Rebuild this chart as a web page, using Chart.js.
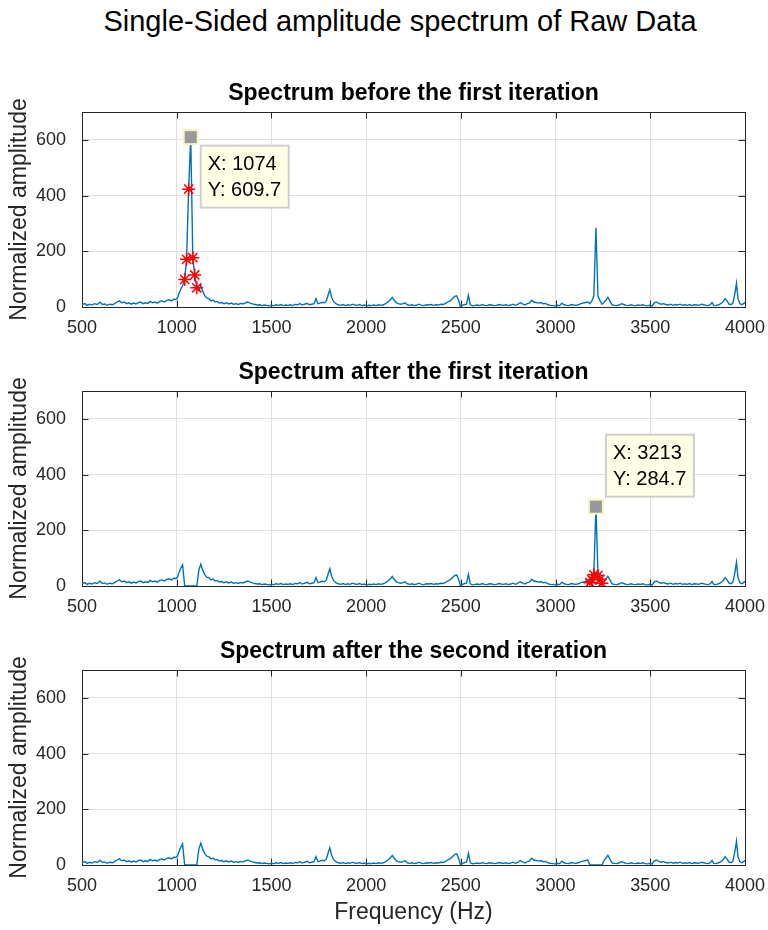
<!DOCTYPE html>
<html>
<head>
<meta charset="utf-8">
<script src="https://cdn.jsdelivr.net/npm/chart.js@4.4.1/dist/chart.umd.min.js"></script>
<style>
body { margin: 0; background: #fff; }
#page { position: relative; width: 768px; height: 930px; background: #fff; overflow: hidden;
        font-family: "Liberation Sans", Arial, Helvetica, sans-serif; }
#mainTitle { position: absolute; left: 16px; top: 5px; width: 768px; text-align: center;
             font-size: 29px; color: #000; }
canvas { position: absolute; left: 0; }
</style>
</head>
<body>
<div id="page">
  <div id="mainTitle">Single-Sided amplitude spectrum of Raw Data</div>
  <canvas id="c1"></canvas>
  <canvas id="c2"></canvas>
  <canvas id="c3"></canvas>
</div>
<script>
"use strict";

// spectrum (Hz, normalized amplitude)
var freqHz = [
  500, 515, 528, 540, 553, 566, 580, 595, 608, 620, 633, 646, 660, 672, 685, 697, 710, 722, 735, 748,
  760, 772, 785, 797, 810, 822, 835, 848, 860, 872, 885, 897, 910, 922, 935, 947, 960, 972, 985, 995,
  1003, 1010, 1020, 1031, 1042, 1052, 1063, 1074, 1085, 1095, 1106, 1117, 1127, 1138, 1149, 1159, 1170, 1181, 1192, 1202,
  1213, 1224, 1235, 1250, 1262, 1275, 1288, 1300, 1313, 1325, 1338, 1350, 1363, 1375, 1388, 1400, 1413, 1425, 1438, 1450,
  1463, 1475, 1488, 1500, 1513, 1525, 1538, 1550, 1563, 1575, 1588, 1600, 1613, 1625, 1638, 1650, 1663, 1675, 1688, 1700,
  1713, 1725, 1735, 1746, 1757, 1768, 1780, 1790, 1800, 1808, 1818, 1828, 1840, 1853, 1865, 1878, 1890, 1903, 1915, 1928,
  1940, 1953, 1965, 1978, 1990, 2003, 2015, 2028, 2040, 2053, 2065, 2078, 2090, 2103, 2115, 2128, 2138, 2148, 2160, 2170,
  2182, 2195, 2205, 2218, 2230, 2243, 2255, 2268, 2280, 2293, 2305, 2318, 2330, 2343, 2355, 2368, 2380, 2393, 2405, 2418,
  2430, 2443, 2455, 2468, 2478, 2488, 2497, 2508, 2520, 2530, 2540, 2550, 2562, 2575, 2588, 2600, 2613, 2625, 2638, 2650,
  2663, 2675, 2688, 2700, 2713, 2725, 2738, 2750, 2763, 2775, 2788, 2800, 2813, 2825, 2838, 2850, 2862, 2874, 2885, 2897,
  2910, 2922, 2935, 2947, 2960, 2972, 2985, 2997, 3010, 3022, 3033, 3045, 3058, 3070, 3083, 3095, 3108, 3120, 3133, 3145,
  3158, 3170, 3181, 3192, 3202, 3213, 3224, 3234, 3245, 3256, 3266, 3276, 3288, 3298, 3310, 3323, 3335, 3348, 3360, 3373,
  3385, 3398, 3410, 3423, 3435, 3448, 3460, 3473, 3485, 3498, 3510, 3520, 3532, 3545, 3557, 3570, 3582, 3595, 3607, 3620,
  3632, 3645, 3657, 3670, 3682, 3695, 3707, 3720, 3732, 3745, 3757, 3770, 3782, 3795, 3807, 3818, 3826, 3835, 3847, 3860,
  3872, 3885, 3895, 3905, 3916, 3926, 3936, 3947, 3955, 3963, 3973, 3984, 3995, 4000
];
var ampRaw = [
  8, 12, 6, 10, 7, 12, 9, 17, 9, 11, 6, 10, 8, 12, 18, 22, 15, 18, 12, 15,
  10, 14, 11, 16, 18, 12, 15, 13, 20, 15, 18, 14, 20, 22, 18, 24, 26, 22, 28, 27,
  30, 45, 62, 76, 99, 171, 423, 609.7, 177, 115, 69, 58, 78, 55, 40, 32, 30, 22, 25, 18,
  20, 14, 16, 12, 15, 11, 14, 10, 12, 9, 13, 11, 15, 18, 14, 11, 9, 7, 8, 5,
  7, 6, 4, 6, 5, 8, 6, 9, 5, 7, 6, 8, 5, 9, 8, 12, 7, 10, 13, 8,
  10, 12, 30, 12, 14, 17, 15, 22, 45, 62, 35, 20, 12, 8, 6, 9, 5, 8, 6, 10,
  7, 6, 9, 5, 7, 4, 6, 5, 7, 5, 8, 6, 8, 12, 18, 26, 34, 24, 15, 12,
  10, 12, 15, 8, 6, 8, 5, 7, 10, 6, 5, 8, 7, 9, 6, 8, 7, 10, 9, 12,
  18, 22, 30, 38, 40, 24, 3, 6, 9, 10, 42, 8, 4, 6, 7, 5, 9, 6, 5, 8,
  7, 5, 6, 9, 7, 6, 8, 5, 7, 10, 6, 9, 16, 11, 7, 12, 14, 24, 18, 16,
  14, 16, 12, 13, 8, 6, 5, 4, 6, 5, 14, 8, 6, 5, 9, 7, 6, 8, 12, 14,
  16, 18, 12, 22, 40, 284.7, 38, 24, 10, 17, 25, 35, 20, 8, 6, 5, 7, 12, 9, 6,
  5, 8, 6, 5, 7, 6, 8, 5, 4, 6, 4, 14, 18, 13, 10, 12, 9, 7, 10, 6,
  9, 7, 10, 6, 8, 6, 9, 5, 8, 7, 6, 10, 8, 6, 5, 9, 16, 6, 5, 8,
  12, 20, 30, 22, 10, 8, 14, 50, 85, 30, 12, 8, 14, 17
];

// bins taken out by each iteration
var removedIter1 = [1042, 1052, 1063, 1074, 1085, 1095, 1106];
var removedIter2 = [3181, 3192, 3202, 3213, 3224, 3234, 3245];
// red star markers (neighbours of the picked peak)
var starsIter1 = [1042, 1052, 1063, 1085, 1095, 1106];
var starsIter2 = [3181, 3192, 3202, 3224, 3234, 3245];
// data cursors
var tipIter1 = { x: 1074, y: 609.7, below: true };
var tipIter2 = { x: 3213, y: 284.7, below: false };

var xTickValues = [500, 1000, 1500, 2000, 2500, 3000, 3500, 4000];
var yTickValues = [0, 200, 400, 600];

var FONT = '"Liberation Sans", Arial, Helvetica, sans-serif';
var AXIS_COLOR = '#262626';
var LINE_COLOR = '#0072BD';
var PLOT_LEFT = 82, PLOT_RIGHT = 745, PLOT_H = 195;

Chart.defaults.font.family = FONT;
Chart.defaults.color = AXIS_COLOR;

function zeroed(removed) {
    return ampRaw.map(function (v, i) {
        return removed.indexOf(freqHz[i]) >= 0 ? 0 : v;
    });
}

function points(values) {
    return freqHz.map(function (f, i) { return { x: f, y: values[i] }; });
}

function starPoints(list) {
    return list.map(function (f) { return { x: f, y: ampRaw[freqHz.indexOf(f)] }; });
}

// MATLAB style box, inward ticks, titles and data cursor
var matlabAxes = {
    id: 'matlabAxes',
    beforeDatasetsDraw: function (chart) {
        var ctx = chart.ctx, a = chart.chartArea;
        var xs = chart.scales.x, ys = chart.scales.y;
        var tl = 6.5;
        ctx.save();
        ctx.strokeStyle = AXIS_COLOR;
        ctx.lineWidth = 1;
        ctx.beginPath();
        xTickValues.forEach(function (v) {
            var px = Math.round(xs.getPixelForValue(v)) + 0.5;
            ctx.moveTo(px, a.bottom); ctx.lineTo(px, a.bottom - tl);
            ctx.moveTo(px, a.top); ctx.lineTo(px, a.top + tl);
        });
        yTickValues.forEach(function (v) {
            var py = Math.round(ys.getPixelForValue(v)) + 0.5;
            ctx.moveTo(a.left, py); ctx.lineTo(a.left + tl, py);
            ctx.moveTo(a.right, py); ctx.lineTo(a.right - tl, py);
        });
        ctx.stroke();
        ctx.strokeRect(Math.round(a.left) + 0.5, Math.round(a.top) + 0.5,
                       Math.round(a.right - a.left), Math.round(a.bottom - a.top));
        ctx.restore();
    },
    afterDraw: function (chart, args, opts) {
        var ctx = chart.ctx, a = chart.chartArea;
        ctx.save();
        ctx.fillStyle = '#000';
        ctx.textAlign = 'center';
        ctx.textBaseline = 'middle';
        ctx.font = 'bold 23px ' + FONT;
        ctx.fillText(opts.title, (a.left + a.right) / 2, a.top - 18.5);

        ctx.fillStyle = AXIS_COLOR;
        ctx.font = '23px ' + FONT;
        ctx.translate(20, (a.top + a.bottom) / 2);
        ctx.rotate(-Math.PI / 2);
        ctx.fillText('Normalized amplitude', 0, 0);
        ctx.restore();

        if (opts.xlabel) {
            ctx.save();
            ctx.fillStyle = AXIS_COLOR;
            ctx.font = '23px ' + FONT;
            ctx.textAlign = 'center';
            ctx.textBaseline = 'middle';
            ctx.fillText(opts.xlabel, (a.left + a.right) / 2, a.bottom + 48);
            ctx.restore();
        }

        var tip = opts.tip;
        if (tip) {
            var px = chart.scales.x.getPixelForValue(tip.x);
            var py = chart.scales.y.getPixelForValue(tip.y);
            ctx.save();
            ctx.fillStyle = '#999999';
            ctx.strokeStyle = '#f7f3c6';
            ctx.lineWidth = 2;
            ctx.fillRect(px - 7, py - 7, 14, 14);
            ctx.strokeRect(px - 7, py - 7, 14, 14);

            var bw = 88, bh = 62;
            var bx = px + 10;
            var by = tip.below ? py + 8.5 : py - 10 - bh;
            ctx.fillStyle = '#ffffe6';
            ctx.strokeStyle = '#cfcfcf';
            ctx.lineWidth = 2;
            ctx.fillRect(bx, by, bw, bh);
            ctx.strokeRect(bx, by, bw, bh);
            ctx.fillStyle = '#000';
            ctx.font = '20px ' + FONT;
            ctx.textAlign = 'left';
            ctx.textBaseline = 'middle';
            ctx.fillText('X: ' + tip.x, bx + 7, by + 19);
            ctx.fillText('Y: ' + tip.y, bx + 7, by + 45);
            ctx.restore();
        }
    }
};

function makeChart(id, top, height, values, stars, title, tip, xlabel) {
    var canvas = document.getElementById(id);
    canvas.width = 768;
    canvas.height = height;
    canvas.style.top = top + 'px';
    canvas.style.width = '768px';
    canvas.style.height = height + 'px';

    var padTop = 51;
    var xAxisH = height - padTop - PLOT_H;

    return new Chart(canvas, {
        type: 'line',
        data: {
            datasets: [{
                data: points(values),
                borderColor: LINE_COLOR,
                borderWidth: 1.4,
                pointRadius: 0,
                tension: 0,
                order: 1
            }, {
                type: 'scatter',
                data: starPoints(stars),
                pointStyle: 'star',
                pointRadius: 6.5,
                pointBorderColor: '#ff0000',
                pointBackgroundColor: '#ff0000',
                pointBorderWidth: 1.5,
                showLine: false,
                order: 0
            }]
        },
        options: {
            responsive: false,
            animation: false,
            events: [],
            layout: { padding: { top: padTop, left: 0, right: 768 - PLOT_RIGHT, bottom: 0 } },
            plugins: {
                legend: { display: false },
                tooltip: { enabled: false },
                matlabAxes: { title: title, tip: tip, xlabel: xlabel }
            },
            scales: {
                x: {
                    type: 'linear',
                    min: 500, max: 4000,
                    afterBuildTicks: function (s) { s.ticks = xTickValues.map(function (v) { return { value: v }; }); },
                    afterFit: function (s) { s.height = xAxisH; s.paddingLeft = 0; s.paddingRight = 0; },
                    grid: { color: '#dfdfdf', lineWidth: 1, drawTicks: false },
                    border: { display: false },
                    ticks: { font: { size: 18 }, padding: 10, maxRotation: 0, color: AXIS_COLOR,
                             callback: function (v) { return String(v); } }
                },
                y: {
                    min: 0, max: 700,
                    afterBuildTicks: function (s) { s.ticks = yTickValues.map(function (v) { return { value: v }; }); },
                    afterFit: function (s) { s.width = PLOT_LEFT; s.paddingTop = 0; s.paddingBottom = 0; },
                    grid: { color: '#dfdfdf', lineWidth: 1, drawTicks: false },
                    border: { display: false },
                    ticks: { font: { size: 18 }, padding: 16, color: AXIS_COLOR,
                             callback: function (v) { return String(v); } }
                }
            }
        },
        plugins: [matlabAxes]
    });
}

makeChart('c1', 60.5, 282, ampRaw, starsIter1, 'Spectrum before the first iteration', tipIter1, null);
makeChart('c2', 340, 282, zeroed(removedIter1), starsIter2, 'Spectrum after the first iteration', tipIter2, null);
makeChart('c3', 619, 311, zeroed(removedIter1.concat(removedIter2)), [], 'Spectrum after the second iteration', null, 'Frequency (Hz)');
</script>
</body>
</html>
